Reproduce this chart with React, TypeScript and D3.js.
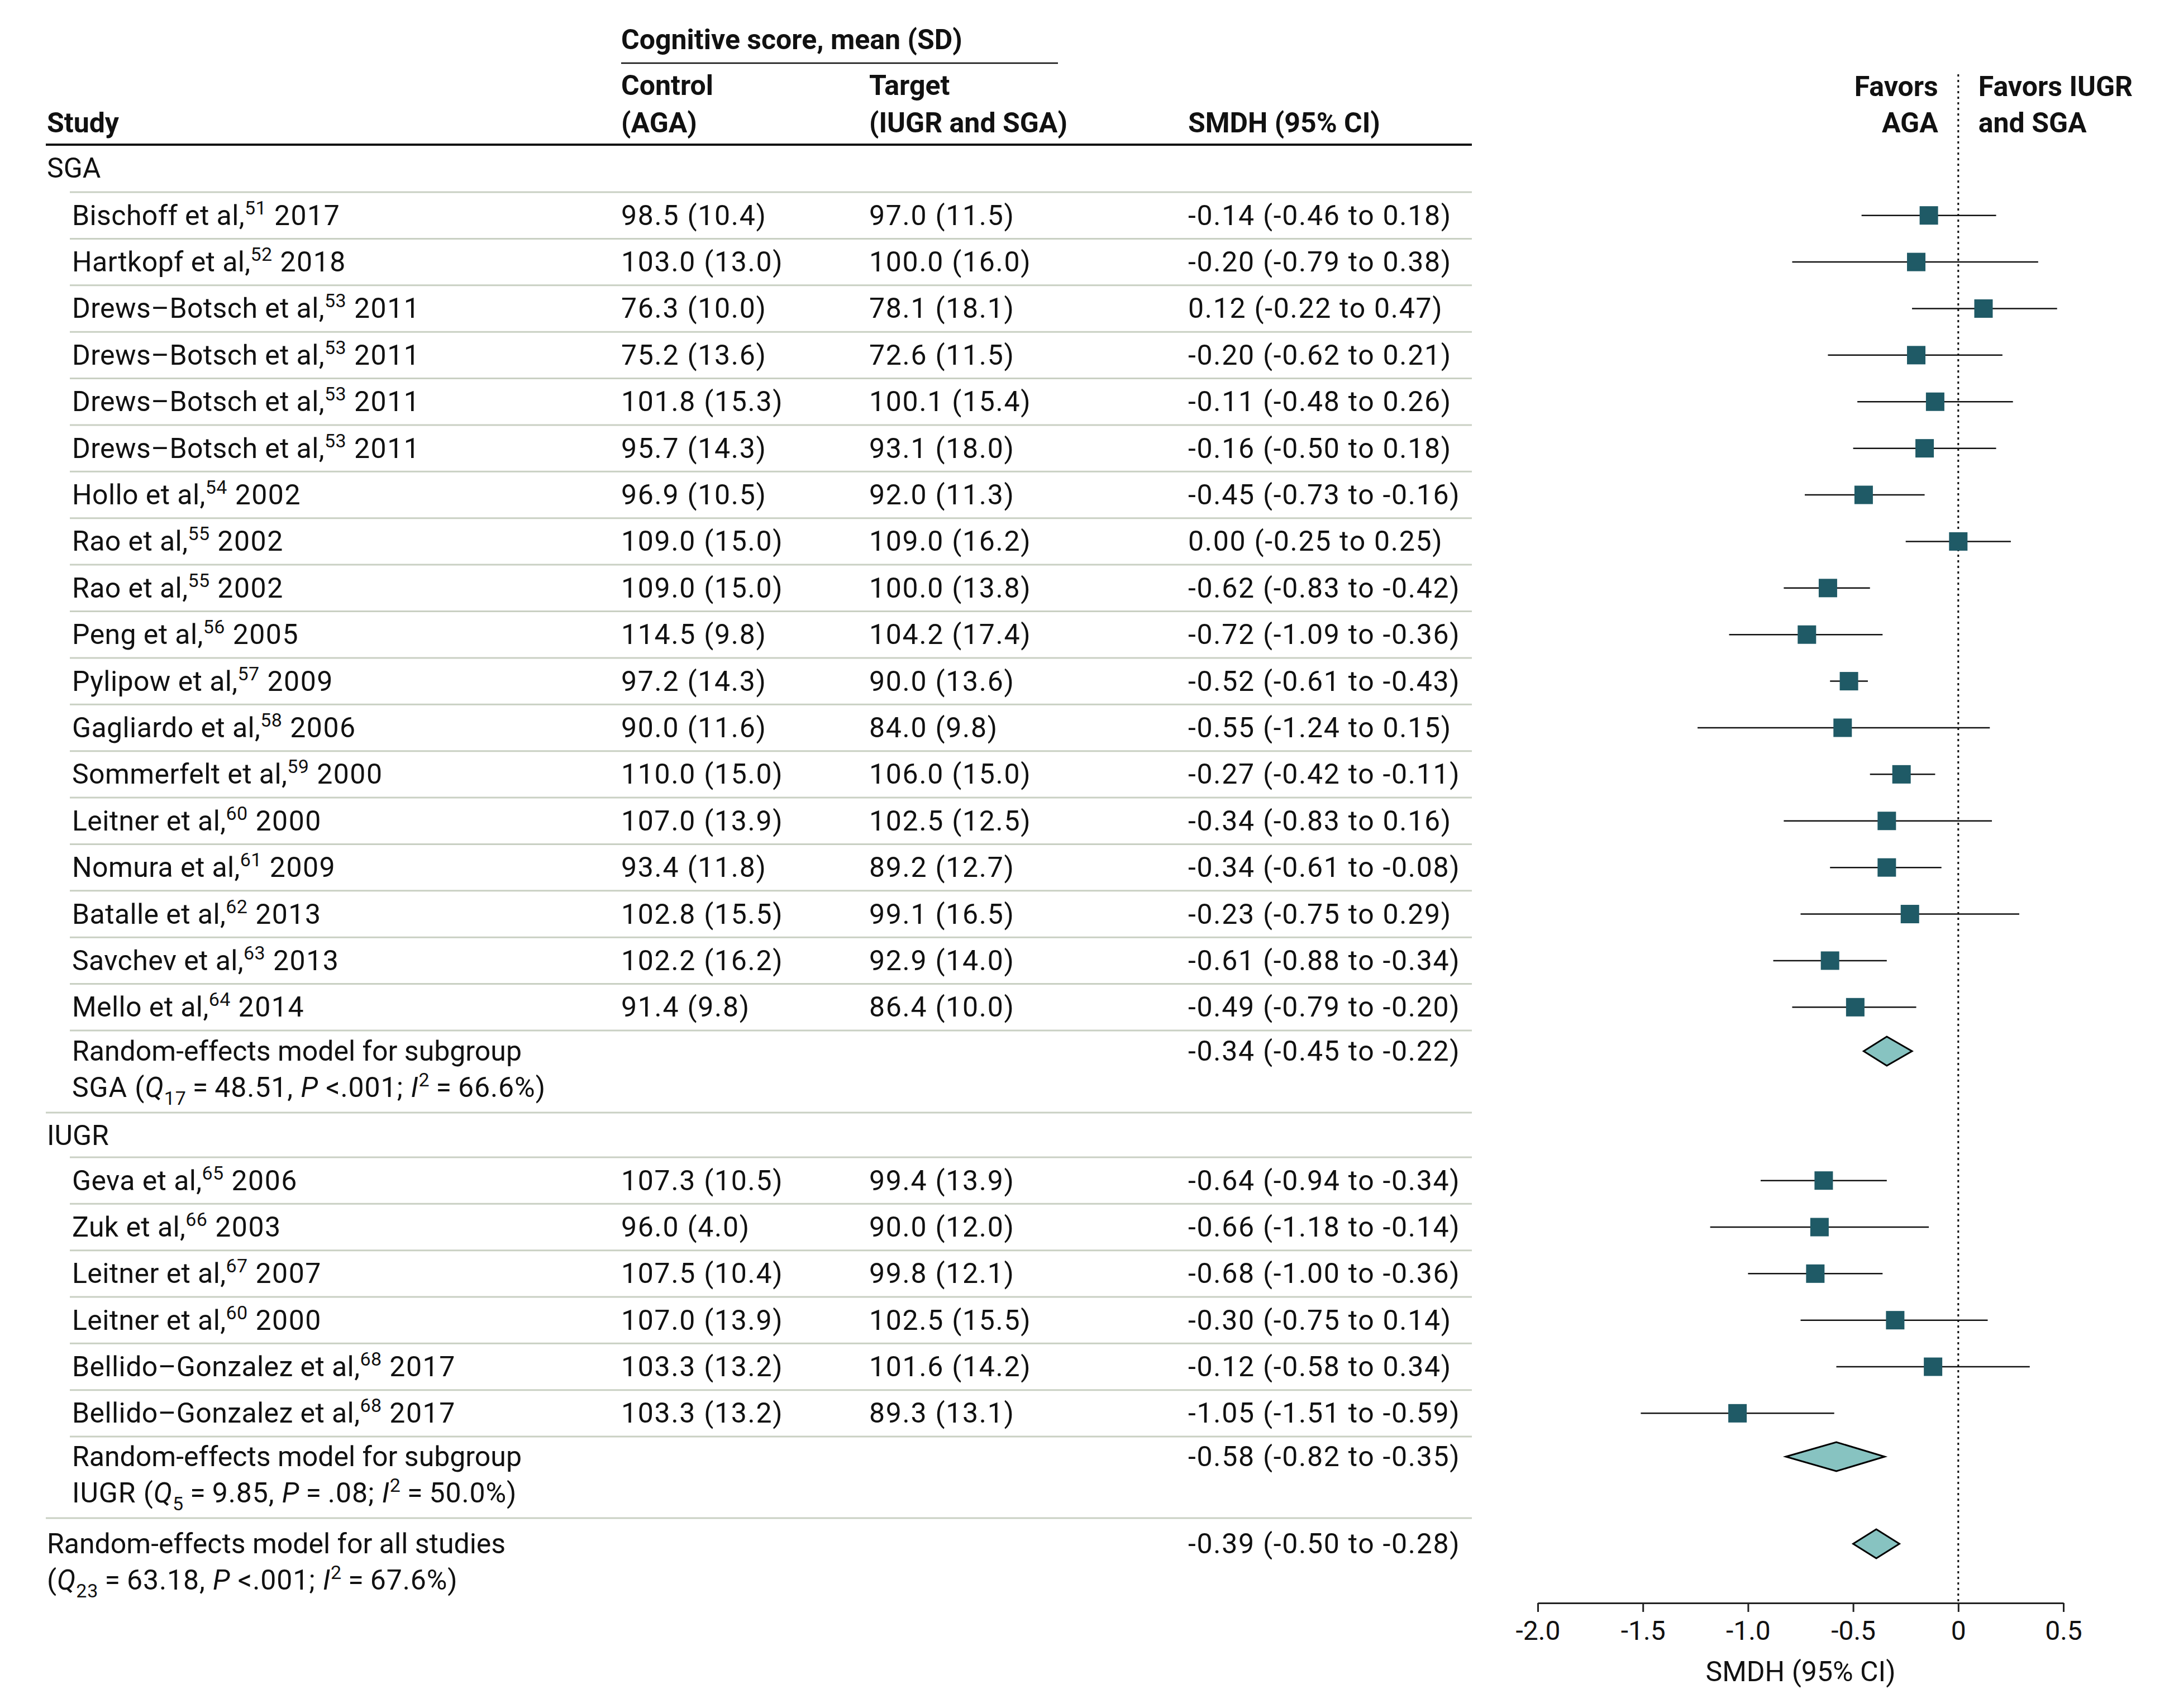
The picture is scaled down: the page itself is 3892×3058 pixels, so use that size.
import React, { useEffect, useRef } from "react";
import { scaleLinear, scaleBand, axisBottom, select } from "d3";

const W = 3892;
const H = 3058;
const FONT = "Roboto, 'Noto Sans', Arial, sans-serif";

// SGA subgroup
const sgaAuthors = ["Bischoff", "Hartkopf", "Drews–Botsch", "Drews–Botsch", "Drews–Botsch", "Drews–Botsch", "Hollo", "Rao", "Rao", "Peng", "Pylipow", "Gagliardo", "Sommerfelt", "Leitner", "Nomura", "Batalle", "Savchev", "Mello"];
const sgaCite = [51, 52, 53, 53, 53, 53, 54, 55, 55, 56, 57, 58, 59, 60, 61, 62, 63, 64];
const sgaYear = [2017, 2018, 2011, 2011, 2011, 2011, 2002, 2002, 2002, 2005, 2009, 2006, 2000, 2000, 2009, 2013, 2013, 2014];
const sgaCtrlMean = [98.5, 103.0, 76.3, 75.2, 101.8, 95.7, 96.9, 109.0, 109.0, 114.5, 97.2, 90.0, 110.0, 107.0, 93.4, 102.8, 102.2, 91.4];
const sgaCtrlSd = [10.4, 13.0, 10.0, 13.6, 15.3, 14.3, 10.5, 15.0, 15.0, 9.8, 14.3, 11.6, 15.0, 13.9, 11.8, 15.5, 16.2, 9.8];
const sgaTgtMean = [97.0, 100.0, 78.1, 72.6, 100.1, 93.1, 92.0, 109.0, 100.0, 104.2, 90.0, 84.0, 106.0, 102.5, 89.2, 99.1, 92.9, 86.4];
const sgaTgtSd = [11.5, 16.0, 18.1, 11.5, 15.4, 18.0, 11.3, 16.2, 13.8, 17.4, 13.6, 9.8, 15.0, 12.5, 12.7, 16.5, 14.0, 10.0];
const sgaEst = [-0.14, -0.2, 0.12, -0.2, -0.11, -0.16, -0.45, 0.0, -0.62, -0.72, -0.52, -0.55, -0.27, -0.34, -0.34, -0.23, -0.61, -0.49];
const sgaLo = [-0.46, -0.79, -0.22, -0.62, -0.48, -0.5, -0.73, -0.25, -0.83, -1.09, -0.61, -1.24, -0.42, -0.83, -0.61, -0.75, -0.88, -0.79];
const sgaHi = [0.18, 0.38, 0.47, 0.21, 0.26, 0.18, -0.16, 0.25, -0.42, -0.36, -0.43, 0.15, -0.11, 0.16, -0.08, 0.29, -0.34, -0.2];

// IUGR subgroup
const iugrAuthors = ["Geva", "Zuk", "Leitner", "Leitner", "Bellido–Gonzalez", "Bellido–Gonzalez"];
const iugrCite = [65, 66, 67, 60, 68, 68];
const iugrYear = [2006, 2003, 2007, 2000, 2017, 2017];
const iugrCtrlMean = [107.3, 96.0, 107.5, 107.0, 103.3, 103.3];
const iugrCtrlSd = [10.5, 4.0, 10.4, 13.9, 13.2, 13.2];
const iugrTgtMean = [99.4, 90.0, 99.8, 102.5, 101.6, 89.3];
const iugrTgtSd = [13.9, 12.0, 12.1, 15.5, 14.2, 13.1];
const iugrEst = [-0.64, -0.66, -0.68, -0.3, -0.12, -1.05];
const iugrLo = [-0.94, -1.18, -1.0, -0.75, -0.58, -1.51];
const iugrHi = [-0.34, -0.14, -0.36, 0.14, 0.34, -0.59];

// pooled random-effects estimates: SGA, IUGR, all
const pooledLabel = ["SGA", "IUGR", ""];
const pooledDf = [17, 5, 23];
const pooledQ = [48.51, 9.85, 63.18];
const pooledP = [" <.001", "\u2009=\u2009.08", " <.001"];
const pooledI2 = [66.6, 50.0, 67.6];
const pooledEst = [-0.34, -0.58, -0.39];
const pooledLo = [-0.45, -0.82, -0.5];
const pooledHi = [-0.22, -0.35, -0.28];

const xTicks = [-2, -1.5, -1, -0.5, 0, 0.5];

const x = scaleLinear().domain([-2, 0.5]).range([2753, 3694]);
const sgaY = scaleBand<number>().domain(sgaAuthors.map((_, i) => i)).range([344, 1845]);
const iugrY = scaleBand<number>().domain(iugrAuthors.map((_, i) => i)).range([2072, 2572]);
const pooledY = [1882, 2608, 2764];
const pooledX = [129, 129, 84];
const AXIS_Y = 2870;

const f2 = (v: number) => v.toFixed(2);
const f1 = (v: number) => v.toFixed(1);
const SQ = 33;
const SQ_COL = "#1f5a66";
const DIA_COL = "#87c3c1";
const SEP_COL = "#c9d0c3";
const FS = 50;
const SUP = 34;
const NUM_LS = 1.7;

const COL_CTRL = 1112;
const COL_TGT = 1556;
const COL_SMDH = 2127;
const TABLE_R = 2635;

function StudyRow({ cy, author, cite, year, cm, csd, tm, tsd, est, lo, hi }: any) {
  const by = cy + 17;
  return (
    <g>
      <text x={129} y={by} letterSpacing={0.4}>
        {author} et al,
        <tspan dy={-19} fontSize={SUP}>{cite}</tspan>
        <tspan dy={19} letterSpacing={1.5}>{" " + year}</tspan>
      </text>
      <text x={COL_CTRL} y={by} letterSpacing={NUM_LS}>{`${f1(cm)} (${f1(csd)})`}</text>
      <text x={COL_TGT} y={by} letterSpacing={NUM_LS}>{`${f1(tm)} (${f1(tsd)})`}</text>
      <text x={COL_SMDH} y={by} letterSpacing={NUM_LS}>{`${f2(est)} (${f2(lo)} to ${f2(hi)})`}</text>
      <line x1={x(lo)} x2={x(hi)} y1={cy} y2={cy} stroke="#111" strokeWidth={2.5} />
      <rect x={x(est) - SQ / 2} y={cy - SQ / 2} width={SQ} height={SQ} fill={SQ_COL} />
    </g>
  );
}

function PooledRow({ i }: { i: number }) {
  const cy = pooledY[i];
  const by = cy + 17;
  const lx = pooledX[i];
  const lab = pooledLabel[i];
  const d = 26;
  const pts = [
    [x(pooledLo[i]), cy],
    [x(pooledEst[i]), cy - d],
    [x(pooledHi[i]), cy],
    [x(pooledEst[i]), cy + d],
  ];
  return (
    <g>
      <text x={lx} y={by}>
        {i < 2 ? "Random-effects model for subgroup" : "Random-effects model for all studies"}
      </text>
      <text x={lx} y={by + 65} letterSpacing={0.9}>
        <tspan>{lab ? lab + " (" : "("}</tspan>
        <tspan fontStyle="italic">Q</tspan>
        <tspan dy={14} fontSize={SUP}>{pooledDf[i]}</tspan>
        <tspan dy={-14}>{`\u2009=\u2009${f2(pooledQ[i])}, `}</tspan>
        <tspan fontStyle="italic">P</tspan>
        <tspan>{pooledP[i] + "; "}</tspan>
        <tspan fontStyle="italic">I</tspan>
        <tspan dy={-19} fontSize={SUP}>2</tspan>
        <tspan dy={19}>{`\u2009=\u2009${f1(pooledI2[i])}%)`}</tspan>
      </text>
      <text x={COL_SMDH} y={by} letterSpacing={NUM_LS}>{`${f2(pooledEst[i])} (${f2(pooledLo[i])} to ${f2(pooledHi[i])})`}</text>
      <polygon points={pts.map((p) => p.join(",")).join(" ")} fill={DIA_COL} stroke="#000" strokeWidth={3} strokeLinejoin="miter" />
    </g>
  );
}

export default function App() {
  const axisRef = useRef<SVGGElement>(null);

  useEffect(() => {
    const g = select(axisRef.current);
    g.call(
      axisBottom(x)
        .tickValues(xTicks)
        .tickFormat((d: any) => (d === 0 ? "0" : (+d).toFixed(1)))
        .tickSize(16)
        .tickSizeOuter(0)
        .tickPadding(16)
    );
    g.attr("font-size", 48).attr("font-family", FONT);
    g.select(".domain").attr("stroke", "#222").attr("stroke-width", 3);
    g.selectAll(".tick line").attr("stroke", "#222").attr("stroke-width", 3);
    g.selectAll(".tick text").attr("fill", "#111");
  }, []);

  const sgaSeps = [...sgaAuthors.map((_, i) => sgaY(i) as number), 1845];
  const iugrSeps = [...iugrAuthors.map((_, i) => iugrY(i) as number), 2572];

  return (
    <svg width={W} height={H} style={{ position: "absolute", left: 0, top: 0, background: "#fff" }} fontFamily={FONT} fontSize={FS} fill="#111">
      <rect width={W} height={H} fill="#fff" />

      {/* table header */}
      <g fontWeight={700}>
        <text x={COL_CTRL} y={88}>Cognitive score, mean (SD)</text>
        <text x={84} y={237}>Study</text>
        <text x={COL_CTRL} y={170}>Control</text>
        <text x={COL_CTRL} y={237}>(AGA)</text>
        <text x={COL_TGT} y={170}>Target</text>
        <text x={COL_TGT} y={237}>(IUGR and SGA)</text>
        <text x={COL_SMDH} y={237}>SMDH (95% CI)</text>
        <text x={x(0) - 36} y={172} textAnchor="end">Favors</text>
        <text x={x(0) - 36} y={237} textAnchor="end">AGA</text>
        <text x={x(0) + 36} y={172}>Favors IUGR</text>
        <text x={x(0) + 36} y={237}>and SGA</text>
      </g>
      <line x1={COL_CTRL} x2={1894} y1={113} y2={113} stroke="#111" strokeWidth={2.5} />
      <line x1={82} x2={TABLE_R} y1={259} y2={259} stroke="#111" strokeWidth={4} />

      {/* separators */}
      {[...sgaSeps, ...iugrSeps].map((yy, i) => (
        <line key={"s" + i} x1={125} x2={TABLE_R} y1={yy} y2={yy} stroke={SEP_COL} strokeWidth={3} />
      ))}
      {[1992, 2718].map((yy, i) => (
        <line key={"f" + i} x1={82} x2={TABLE_R} y1={yy} y2={yy} stroke={SEP_COL} strokeWidth={3} />
      ))}

      {/* zero line */}
      <line x1={x(0)} x2={x(0)} y1={133} y2={AXIS_Y} stroke="#111" strokeWidth={3} strokeDasharray="4 6" />

      <text x={84} y={318}>SGA</text>
      {sgaAuthors.map((a, i) => (
        <StudyRow
          key={"sga" + i}
          cy={(sgaY(i) as number) + sgaY.bandwidth() / 2}
          author={a}
          cite={sgaCite[i]}
          year={sgaYear[i]}
          cm={sgaCtrlMean[i]}
          csd={sgaCtrlSd[i]}
          tm={sgaTgtMean[i]}
          tsd={sgaTgtSd[i]}
          est={sgaEst[i]}
          lo={sgaLo[i]}
          hi={sgaHi[i]}
        />
      ))}

      <text x={84} y={2050}>IUGR</text>
      {iugrAuthors.map((a, i) => (
        <StudyRow
          key={"iugr" + i}
          cy={(iugrY(i) as number) + iugrY.bandwidth() / 2}
          author={a}
          cite={iugrCite[i]}
          year={iugrYear[i]}
          cm={iugrCtrlMean[i]}
          csd={iugrCtrlSd[i]}
          tm={iugrTgtMean[i]}
          tsd={iugrTgtSd[i]}
          est={iugrEst[i]}
          lo={iugrLo[i]}
          hi={iugrHi[i]}
        />
      ))}

      {pooledEst.map((_, i) => (
        <PooledRow key={"p" + i} i={i} />
      ))}

      <g ref={axisRef} transform={`translate(0,${AXIS_Y})`} />
      <text x={x(-0.75)} y={AXIS_Y + 140} textAnchor="middle">SMDH (95% CI)</text>
    </svg>
  );
}
